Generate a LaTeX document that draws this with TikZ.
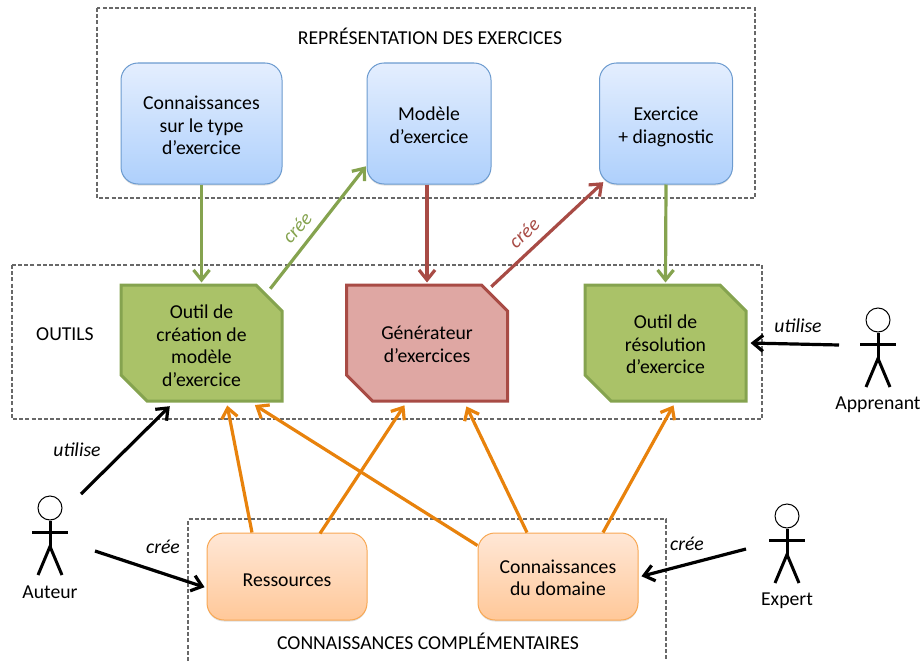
\documentclass[tikz,border=0pt]{standalone}
\usepackage{fontspec}
\setmainfont{Carlito}
\usetikzlibrary{arrows.meta,shapes.misc,shadows,calc}
\definecolor{gline}{HTML}{85A34F}
\definecolor{gfill}{HTML}{AAC268}
\definecolor{rline}{HTML}{A84B45}
\definecolor{rfill}{HTML}{DFA7A3}
\definecolor{oline}{HTML}{E8820C}
\definecolor{frameg}{HTML}{686868}
\definecolor{bdraw}{RGB}{108,155,207}
\definecolor{btop}{RGB}{228,238,254}
\definecolor{bbot}{RGB}{174,208,252}
\definecolor{odraw}{RGB}{248,168,84}
\definecolor{otop}{RGB}{255,231,214}
\definecolor{obot}{RGB}{255,200,153}
\newcommand{\lowered}[2]{\raisebox{-#1}[\height][\depth]{\begin{tabular}{@{}c@{}}#2\end{tabular}}}
\tikzset{
  x=1pt,y=-1pt,
  every node/.style={font=\fontsize{19.7}{22.5}\selectfont,align=center,inner sep=0pt},
  framebox/.style={draw=frameg,line width=1.2pt,dash pattern=on 4pt off 2.2pt},
  softbox/.style={rounded corners=17pt,line width=1pt,minimum height=121pt,
     drop shadow={opacity=.25,shadow xshift=0pt,shadow yshift=-1.5pt}},
  bluebox/.style={softbox,draw=bdraw,top color=btop,bottom color=bbot},
  orangebox/.style={softbox,minimum height=87pt,minimum width=160pt,draw=odraw,top color=otop,bottom color=obot},
  toolbox/.style={chamfered rectangle,chamfered rectangle corners={north east,south west},
     chamfered rectangle xsep=13pt,chamfered rectangle ysep=13pt,
     minimum width=161pt,minimum height=116pt,line width=3pt},
  greentool/.style={toolbox,draw=gline,fill=gfill},
  redtool/.style={toolbox,draw=rline,fill=rfill},
  flow/.style={line width=3.2pt,-{Straight Barb[length=10pt,width=16pt,line width=3.2pt]},shorten >=1pt},
  gflow/.style={flow,draw=gline},
  rflow/.style={flow,draw=rline},
  oflow/.style={flow,draw=oline},
  kflow/.style={flow,draw=black},
  verb/.style={font=\fontsize{19.7}{22}\selectfont\itshape},
  head/.style={circle,draw=black,fill=white,line width=1pt,minimum size=24pt},
  limb/.style={draw=black,line width=3pt},
}
\newcommand{\stickman}[4]{% name, x, y of head centre, label
  \node[head] (#1) at (#2,#3) {};
  \coordinate (#1arm) at ($(#1)+(0,24)$);
  \coordinate (#1hip) at ($(#1)+(0,38.5)$);
  \draw[limb] (#1.south) -- (#1hip);
  \draw[limb] ($(#1arm)+(-18,0)$) -- ($(#1arm)+(18,0)$);
  \draw[limb] ($(#1)+(-12,67)$) -- (#1hip) -- ($(#1)+(12,67)$);
  \node (#1label) at ($(#1)+(0,84.5)$) {#4};
}
\begin{document}
\begin{tikzpicture}
\useasboundingbox (0,0) rectangle (920,661);
% frames
\draw[framebox] (97,8) rectangle (755,198);
\draw[framebox] (12,265) rectangle (762,419);
\draw[framebox] (188,661) -- (188,519) -- (666,519) -- (666,661);
\node (t1) at (430,36) {REPRÉSENTATION DES EXERCICES};
\node (t2) at (65,334) {OUTILS};
\node (t3) at (428,641.5) {CONNAISSANCES COMPLÉMENTAIRES};
% boxes
\node[bluebox,minimum width=161pt] (b1) at (201.5,123.5) {\lowered{4pt}{Connaissances\\sur le type\\d’exercice}};
\node[bluebox,minimum width=124pt] (b2) at (429,123.5) {\lowered{4pt}{Modèle\\d’exercice}};
\node[bluebox,minimum width=133pt] (b3) at (666,123.5) {\lowered{4pt}{Exercice\\+ diagnostic}};
\node[greentool] (o1) at (201.5,343) {\lowered{5pt}{Outil de\\création de\\modèle\\d’exercice}};
\node[redtool] (o2) at (427,343) {\lowered{3.5pt}{Générateur\\d’exercices}};
\node[greentool] (o3) at (665.5,343) {\lowered{3.5pt}{Outil de\\résolution\\d’exercice}};
\node[orangebox] (k1) at (287,576.5) {\lowered{5pt}{Ressources}};
\node[orangebox] (k2) at (558,576.5) {\lowered{3.5pt}{Connaissances\\du domaine}};
% actors
\stickman{aut}{50}{508}{Auteur}
\stickman{exp}{787}{516}{Expert}
\stickman{app}{878}{320}{Apprenant}
% connectors
\draw[gflow] (b1.south) -- (o1.north);
\draw[gflow] ([xshift=0.2,yshift=8.2]o1.north east) -- ([yshift=19]b2.south west);
\draw[rflow] ([xshift=-2]b2.south) -- (o2.north);
\draw[rflow] ([xshift=-4.3,yshift=10.2]o2.north east) -- ([xshift=5,yshift=3]b3.south west);
\draw[gflow] (b3.south) -- (o3.north);
\draw[kflow] ([xshift=-39,yshift=-1]apparm) -- ([xshift=2]o3.east);
\draw[kflow] ([xshift=31,yshift=38]autarm) -- ([xshift=-31,yshift=-3]o1.south);
\draw[kflow] ([xshift=45,yshift=-19]autarm) -- ([xshift=-1,yshift=-11]k1.west);
\draw[kflow] ([xshift=-41,yshift=-9]exparm) -- ([xshift=2,yshift=0]k2.east);
\draw[oflow] ([xshift=-35,yshift=0]k1.north) -- ([xshift=25.5,yshift=-2]o1.south);
\draw[oflow] ([xshift=33,yshift=-1]k1.north) -- ([xshift=-22,yshift=-2]o2.south);
\draw[oflow] ([yshift=-13]k2.north west) -- ([xshift=52.5,yshift=-2]o1.south);
\draw[oflow] ([xshift=-31]k2.north) -- ([xshift=39,yshift=-3]o2.south);
\draw[oflow] ([xshift=45]k2.north) -- ([xshift=8.5,yshift=-2]o3.south);
% connector labels
\node[verb,text=gline,rotate=48] (l1) at (297,228) {crée};
\node[verb,text=rline,rotate=43] (l2) at (524,233) {crée};
\node[verb] (l3) at (77,450) {utilise};
\node[verb] (l4) at (163,547) {crée};
\node[verb] (l5) at (687,544) {crée};
\node[verb] (l6) at (798,326) {utilise};
\end{tikzpicture}
\end{document}
